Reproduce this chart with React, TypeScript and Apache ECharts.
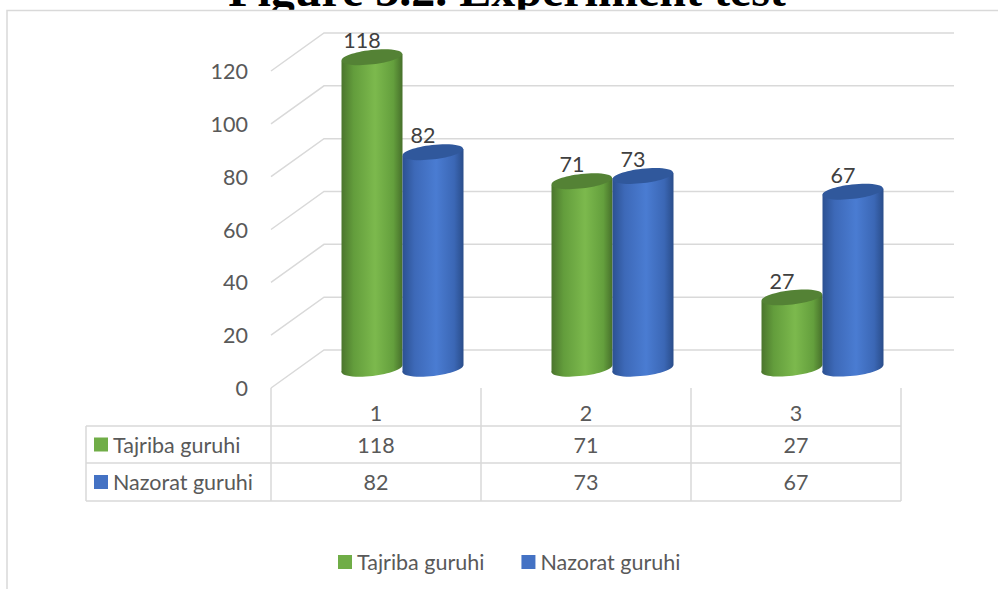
import React, { useEffect, useRef } from "react";
import * as echarts from "echarts";

// ---- data ----
const categories = ["1", "2", "3"];
const seriesNames = ["Tajriba guruhi", "Nazorat guruhi"];
const tajribaValues = [118, 71, 27];
const nazoratValues = [82, 73, 67];
const yTicks = [0, 20, 40, 60, 80, 100, 120];
const titleText = "Figure 3.2. Experiment test";

// ---- style ----
const GREEN = "#70AD47";
const BLUE = "#4472C4";
const FONT = "Lato";
const FS = 21.5;
const TEXT = "#595959";
const LINE = "#d9d9d9";
const W = 998;
const H = 589;
const GRID = { left: 271, right: 97, top: 71, bottom: 201 };
const DEPTH_X = 53;
const DEPTH_Y = -38;
const MID_X = 26.5;
const MID_Y = -19;
const BAR_W = 61;
const RY = 7.2;
const TILT = 0.115;

const greenStops = [
  { offset: 0, color: "#4B752D" },
  { offset: 0.2, color: "#639D3C" },
  { offset: 0.55, color: "#7CB94D" },
  { offset: 0.85, color: "#649F3D" },
  { offset: 1, color: "#47702B" },
];
const blueStops = [
  { offset: 0, color: "#2C5192" },
  { offset: 0.2, color: "#3D69B8" },
  { offset: 0.55, color: "#4A7CD2" },
  { offset: 0.85, color: "#3B67B5" },
  { offset: 1, color: "#2A4D8A" },
];

function makeCylinder(sign: number, stops: any[], topColor: string) {
  return (params: any, api: any) => {
    const ci = api.value(0);
    const v = api.value(1);
    const base = api.coord([ci, 0]);
    const top = api.coord([ci, v]);
    const rx = BAR_W / 2;
    const cx = base[0] + MID_X + sign * rx;
    const by = base[1] + MID_Y;
    const ty = top[1] + MID_Y;
    const d = rx * Math.sin(TILT);
    const grad = () => new echarts.graphic.LinearGradient(0, 0, 1, 0, stops);
    return {
      type: "group",
      children: [
        {
          type: "ellipse",
          shape: { cx, cy: by, rx, ry: RY },
          rotation: TILT,
          originX: cx,
          originY: by,
          style: { fill: grad() },
        },
        {
          type: "polygon",
          shape: {
            points: [
              [cx - rx, ty + d],
              [cx + rx, ty - d],
              [cx + rx, by - d],
              [cx - rx, by + d],
            ],
          },
          style: { fill: grad() },
        },
        {
          type: "ellipse",
          shape: { cx, cy: ty, rx, ry: RY },
          rotation: TILT,
          originX: cx,
          originY: ty,
          style: { fill: topColor },
        },
        {
          type: "text",
          style: {
            text: String(v),
            x: cx - 10,
            y: ty - 17,
            align: "center",
            verticalAlign: "middle",
            fontSize: FS,
            fontFamily: FONT,
            fill: "#404040",
          },
        },
      ],
    };
  };
}

function buildTable() {
  const x0 = GRID.left;
  const band = (W - GRID.left - GRID.right) / categories.length;
  const tableLeft = 86;
  const rowTop = 426;
  const rowMid = 463;
  const rowBot = 501;
  const headTop = 388;
  const els: any[] = [];
  const ln = (x1: number, y1: number, x2: number, y2: number) =>
    els.push({
      type: "line",
      shape: { x1, y1, x2, y2 },
      style: { stroke: LINE, lineWidth: 1.5 },
      z: 5,
    });
  [rowTop, rowMid, rowBot].forEach((y) => ln(tableLeft, y, x0 + band * categories.length, y));
  ln(tableLeft, rowTop, tableLeft, rowBot);
  for (let i = 0; i <= categories.length; i++) {
    ln(x0 + band * i, headTop, x0 + band * i, rowBot);
  }
  const rows = [
    { name: seriesNames[0], color: GREEN, values: tajribaValues, y: (rowTop + rowMid) / 2 },
    { name: seriesNames[1], color: BLUE, values: nazoratValues, y: (rowMid + rowBot) / 2 },
  ];
  rows.forEach((r) => {
    els.push({
      type: "rect",
      shape: { x: 94, y: r.y - 7, width: 14, height: 14 },
      style: { fill: r.color },
      z: 5,
    });
    els.push({
      type: "text",
      style: {
        text: r.name,
        x: 113,
        y: r.y,
        align: "left",
        verticalAlign: "middle",
        fontSize: FS,
        fontFamily: FONT,
        fill: TEXT,
      },
      z: 5,
    });
    r.values.forEach((v, i) => {
      els.push({
        type: "text",
        style: {
          text: String(v),
          x: x0 + band * (i + 0.5),
          y: r.y,
          align: "center",
          verticalAlign: "middle",
          fontSize: FS,
          fontFamily: FONT,
          fill: TEXT,
        },
        z: 5,
      });
    });
  });
  return els;
}

export default function App() {
  const ref = useRef<HTMLDivElement>(null);
  useEffect(() => {
    document.body.style.margin = "0";
    const chart = echarts.init(ref.current!, null, { renderer: "svg" });
    chart.setOption({
      animation: false,
      backgroundColor: "#ffffff",
      grid: { ...GRID, containLabel: false, outerBoundsMode: "none" },
      legend: {
        data: seriesNames,
        left: 333,
        top: 546,
        icon: "rect",
        itemWidth: 14,
        itemHeight: 14,
        itemGap: 37,
        textStyle: { fontSize: FS, fontFamily: FONT, color: TEXT },
        selectedMode: false,
      },
      xAxis: {
        type: "category",
        data: categories,
        axisLine: { show: false },
        axisTick: { show: false },
        splitLine: { show: false },
        axisLabel: { fontSize: FS, fontFamily: FONT, color: TEXT, margin: 14 },
      },
      yAxis: {
        type: "value",
        min: 0,
        max: 120,
        interval: 20,
        axisLine: { show: false },
        axisTick: { show: false },
        splitLine: { show: false },
        axisLabel: { fontSize: FS, fontFamily: FONT, color: TEXT, margin: 23 },
      },
      graphic: [
        {
          type: "text",
          z: 0,
          style: {
            text: titleText,
            x: 507,
            y: -11,
            align: "center",
            verticalAlign: "middle",
            fontSize: 48,
            fontWeight: "bold",
            fontFamily: "Liberation Serif",
            fill: "#000",
          },
        },
        {
          type: "rect",
          z: 0,
          shape: { x: 7, y: 10.5, width: 1100, height: 700 },
          style: { fill: "#fff", stroke: LINE, lineWidth: 1.5 },
        },
        ...buildTable(),
      ],
      series: [
        {
          type: "custom",
          name: "grid",
          silent: true,
          z: 1,
          data: yTicks.map((v) => [0, v]),
          renderItem: (params: any, api: any) => {
            const cs = params.coordSys;
            const y = api.coord([0, api.value(1)])[1];
            const x0 = cs.x;
            return {
              type: "polyline",
              shape: {
                points: [
                  [x0, y],
                  [x0 + DEPTH_X, y + DEPTH_Y],
                  [x0 + cs.width + DEPTH_X, y + DEPTH_Y],
                ],
              },
              style: { stroke: LINE, lineWidth: 1.5, fill: "none" },
            };
          },
        },
        {
          type: "custom",
          name: seriesNames[0],
          itemStyle: { color: GREEN },
          z: 3,
          data: tajribaValues.map((v, i) => [i, v]),
          renderItem: makeCylinder(-1, greenStops, "#548235"),
        },
        {
          type: "custom",
          name: seriesNames[1],
          itemStyle: { color: BLUE },
          z: 3,
          data: nazoratValues.map((v, i) => [i, v]),
          renderItem: makeCylinder(1, blueStops, "#30589C"),
        },
      ],
    });
    return () => chart.dispose();
  }, []);
  return <div ref={ref} style={{ width: W, height: H }} />;
}
